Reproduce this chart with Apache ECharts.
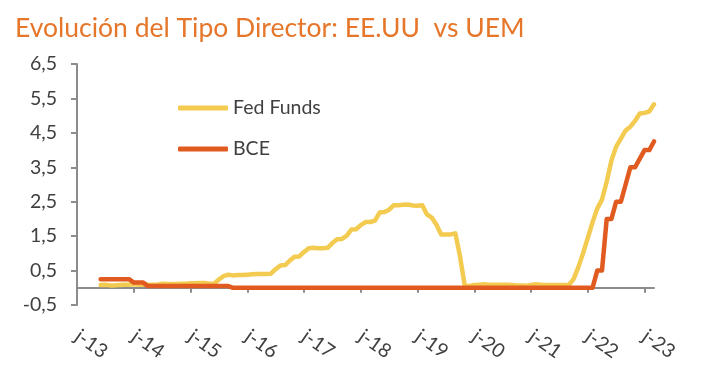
<!DOCTYPE html>
<html>
<head>
<meta charset="utf-8">
<script src="https://cdn.jsdelivr.net/npm/echarts@6/dist/echarts.min.js"></script>
<style>
  html, body { margin: 0; padding: 0; background: #fff; }
  #chart { width: 724px; height: 376px; }
</style>
</head>
<body>
<div id="chart"></div>
<script>
// monthly, jun-2013 .. aug-2023
const startYear = 2013
const startMonth = 6
const monthCount = 123
const months = []
for (let i = 0; i < monthCount; i++) {
  const m = startMonth - 1 + i
  const y = startYear + Math.floor(m / 12)
  months.push(y + '-' + String((m % 12) + 1).padStart(2, '0'))
}

const yTicks = [-0.5, 0.5, 1.5, 2.5, 3.5, 4.5, 5.5, 6.5]

const fedFunds = [
  null, null, null, null, null, 0.08, 0.09,
  0.07, 0.07, 0.08, 0.09, 0.09, 0.10, 0.09, 0.09, 0.09, 0.09, 0.09, 0.12,
  0.11, 0.11, 0.11, 0.12, 0.12, 0.13, 0.13, 0.14, 0.14, 0.12, 0.12, 0.24,
  0.34, 0.38, 0.36, 0.37, 0.37, 0.38, 0.39, 0.40, 0.40, 0.40, 0.41, 0.54,
  0.65, 0.66, 0.79, 0.90, 0.91, 1.04, 1.15, 1.16, 1.15, 1.15, 1.16, 1.30,
  1.41, 1.42, 1.51, 1.69, 1.70, 1.82, 1.91, 1.91, 1.95, 2.19, 2.20, 2.27,
  2.40, 2.40, 2.41, 2.42, 2.39, 2.38, 2.40, 2.13, 2.04, 1.83, 1.55, 1.55,
  1.55, 1.58, 0.90, 0.05, 0.05, 0.08, 0.09, 0.10, 0.09, 0.09, 0.09, 0.09,
  0.09, 0.08, 0.07, 0.07, 0.06, 0.08, 0.10, 0.09, 0.08, 0.08, 0.08, 0.08,
  0.08, 0.08, 0.25, 0.60, 1.00, 1.45, 1.90, 2.30, 2.56, 3.08, 3.70, 4.10,
  4.33, 4.57, 4.68, 4.85, 5.06, 5.08, 5.12, 5.33
]

const bce = [
  null, null, null, null, null, 0.25, 0.25,
  0.25, 0.25, 0.25, 0.25, 0.25, 0.15, 0.15, 0.15, 0.05, 0.05, 0.05, 0.05,
  0.05, 0.05, 0.05, 0.05, 0.05, 0.05, 0.05, 0.05, 0.05, 0.05, 0.05, 0.05,
  0.05, 0.05, 0, 0, 0, 0, 0, 0, 0, 0, 0, 0,
  0, 0, 0, 0, 0, 0, 0, 0, 0, 0, 0, 0,
  0, 0, 0, 0, 0, 0, 0, 0, 0, 0, 0, 0,
  0, 0, 0, 0, 0, 0, 0, 0, 0, 0, 0, 0,
  0, 0, 0, 0, 0, 0, 0, 0, 0, 0, 0, 0,
  0, 0, 0, 0, 0, 0, 0, 0, 0, 0, 0, 0,
  0, 0, 0, 0, 0, 0, 0, 0.50, 0.50, 2.00, 2.00, 2.50,
  2.50, 3.00, 3.50, 3.50, 3.75, 4.00, 4.00, 4.25
]

const FONT = 'Lato'
const chart = echarts.init(document.getElementById('chart'))

chart.setOption({
  animation: false,
  title: {
    text: 'Evolución del Tipo Director: EE.UU  vs UEM',
    left: 10,
    top: 10,
    textStyle: { color: '#E5762A', fontFamily: FONT, fontWeight: 'normal', fontSize: 26.5 }
  },
  legend: {
    orient: 'vertical',
    left: 173,
    top: 93,
    itemGap: 21,
    itemWidth: 50,
    itemHeight: 5,
    icon: 'roundRect',
    textStyle: { color: '#404040', fontFamily: FONT, fontSize: 19.5 },
    data: ['Fed Funds', 'BCE']
  },
  grid: { left: 77, right: 70, top: 64, bottom: 71 },
  xAxis: {
    type: 'category',
    boundaryGap: false,
    data: months,
    axisLine: { onZero: true, lineStyle: { color: '#8C8C8C', width: 2 } },
    axisTick: { interval: 11, length: 5, lineStyle: { color: '#8C8C8C', width: 2 } },
    axisLabel: {
      interval: 11,
      rotate: -35,
      margin: 29,
      color: '#404040',
      fontFamily: FONT,
      fontSize: 19.5,
      formatter: (v) => 'j-' + v.slice(2, 4)
    },
    splitLine: { show: false }
  },
  yAxis: {
    type: 'value',
    min: -0.5,
    max: 6.5,
    axisLine: { show: true, lineStyle: { color: '#8C8C8C', width: 2 } },
    axisTick: { show: true, customValues: yTicks, length: 6, lineStyle: { color: '#8C8C8C', width: 2 } },
    axisLabel: {
      customValues: yTicks,
      margin: 20,
      color: '#404040',
      fontFamily: FONT,
      fontSize: 19.5,
      formatter: (v) => v.toFixed(1).replace('.', ',')
    },
    splitLine: { show: false }
  },
  series: [
    {
      name: 'Fed Funds',
      type: 'line',
      data: fedFunds,
      showSymbol: false,
      lineStyle: { width: 4.5, color: '#F3CB50', cap: 'round', join: 'round' },
      itemStyle: { color: '#F3CB50' }
    },
    {
      name: 'BCE',
      type: 'line',
      data: bce,
      showSymbol: false,
      lineStyle: { width: 4.5, color: '#E15A20', cap: 'round', join: 'round' },
      itemStyle: { color: '#E15A20' }
    }
  ]
})
</script>
</body>
</html>
